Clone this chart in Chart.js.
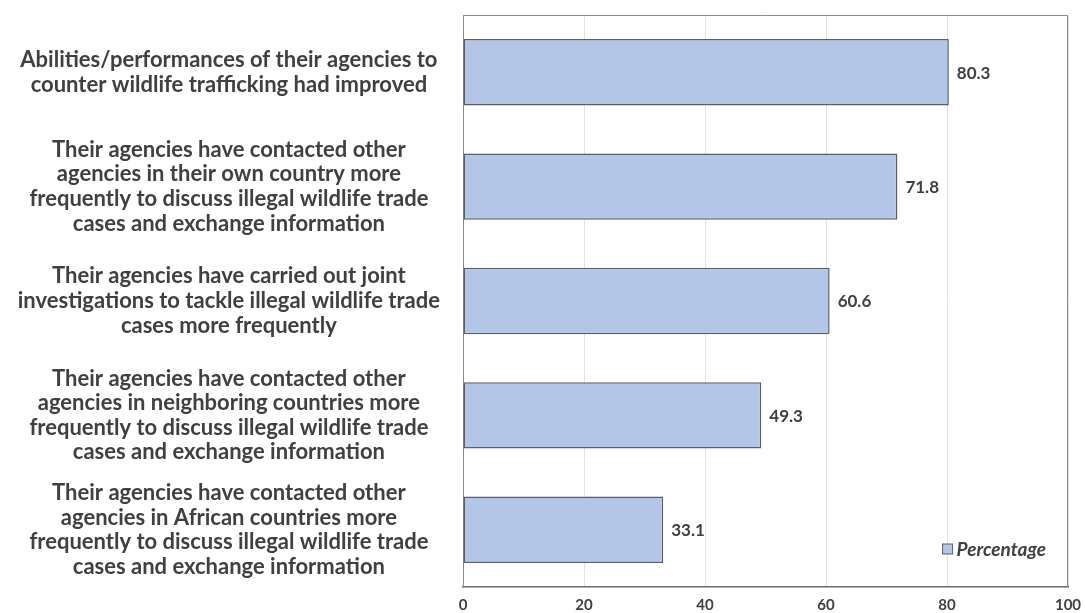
<!DOCTYPE html>
<html>
<head>
<meta charset="utf-8">
<script src="https://cdn.jsdelivr.net/npm/chart.js@4"></script>
<style>
  html, body { margin: 0; padding: 0; background: #ffffff; }
  #wrap { width: 1085px; height: 613px; }
</style>
</head>
<body>
<div id="wrap"><canvas id="grafico" width="1085" height="613"></canvas></div>
<script>
// Categorias (rótulos de várias linhas)
const categorias = [
    ['Abilities/performances of their agencies to', 'counter wildlife trafficking had improved'],
    ['Their agencies have contacted other', 'agencies in their own country more', 'frequently to discuss illegal wildlife trade', 'cases and exchange information'],
    ['Their agencies have carried out joint', 'investigations to tackle illegal wildlife trade', 'cases more frequently'],
    ['Their agencies have contacted other', 'agencies in neighboring countries more', 'frequently to discuss illegal wildlife trade', 'cases and exchange information'],
    ['Their agencies have contacted other', 'agencies in African countries more', 'frequently to discuss illegal wildlife trade', 'cases and exchange information']
];
const percentuais = [80.3, 71.8, 60.6, 49.3, 33.1];
const nomeSerie = 'Percentage';
const ticksX = [0, 20, 40, 60, 80, 100];

const corTexto = '#404040';
const fonte = 'Lato, "DejaVu Sans", sans-serif';

// Valores ao lado das barras
const rotulosValores = {
    id: 'rotulosValores',
    afterDatasetsDraw(chart) {
        const ctx = chart.ctx;
        const meta = chart.getDatasetMeta(0);
        ctx.save();
        ctx.font = 'bold 17px ' + fonte;
        ctx.fillStyle = corTexto;
        ctx.textAlign = 'left';
        ctx.textBaseline = 'middle';
        meta.data.forEach((barra, i) => {
            ctx.fillText(percentuais[i].toFixed(1), barra.x + 8, barra.y + 1);
        });
        ctx.restore();
    }
};

// Legenda dentro da área do gráfico
const legendaInterna = {
    id: 'legendaInterna',
    afterDraw(chart) {
        const ctx = chart.ctx;
        const area = chart.chartArea;
        const ds = chart.data.datasets[0];
        ctx.save();
        ctx.font = 'italic bold 19px ' + fonte;
        const largura = ctx.measureText(ds.label).width;
        const xTexto = area.right - 22 - largura;
        const yTexto = area.bottom - 38;
        ctx.fillStyle = ds.backgroundColor;
        ctx.strokeStyle = ds.borderColor;
        ctx.lineWidth = 1;
        ctx.fillRect(xTexto - 14, yTexto - 5, 10, 10);
        ctx.strokeRect(xTexto - 14, yTexto - 5, 10, 10);
        ctx.fillStyle = corTexto;
        ctx.textAlign = 'left';
        ctx.textBaseline = 'middle';
        ctx.fillText(ds.label, xTexto, yTexto + 1);
        ctx.restore();
    }
};

function inicializarGrafico() {
    const ctx = document.getElementById('grafico').getContext('2d');
    new Chart(ctx, {
        type: 'bar',
        data: {
            labels: categorias,
            datasets: [{
                label: nomeSerie,
                data: percentuais,
                backgroundColor: '#b4c6e7',
                borderColor: '#5a5e68',
                borderWidth: 1.5,
                borderSkipped: false,
                categoryPercentage: 0.58,
                barPercentage: 1
            }]
        },
        options: {
            indexAxis: 'y',
            responsive: false,
            animation: false,
            layout: { padding: { top: 15, right: 17, left: 0, bottom: 0 } },
            plugins: {
                legend: { display: false },
                tooltip: { enabled: false }
            },
            scales: {
                x: {
                    min: 0,
                    max: 100,
                    afterBuildTicks(eixo) {
                        eixo.ticks = ticksX.map(v => ({ value: v }));
                    },
                    afterFit(eixo) {
                        eixo.height = 26;
                        eixo.paddingLeft = 0;
                        eixo.paddingRight = 0;
                    },
                    grid: { color: '#e2e2e2', drawTicks: false, lineWidth: 1 },
                    border: { color: '#6b6b6b', width: 1.5 },
                    ticks: {
                        padding: 9,
                        color: corTexto,
                        font: { family: fonte, size: 15, weight: 'bold' }
                    }
                },
                y: {
                    afterFit(eixo) {
                        eixo.width = 463;
                        eixo.paddingTop = 0;
                        eixo.paddingBottom = 0;
                    },
                    grid: { display: false, drawTicks: false },
                    border: { color: '#8a8a8a', width: 1 },
                    ticks: {
                        crossAlign: 'center',
                        padding: 23,
                        color: corTexto,
                        font: { family: fonte, size: 22, weight: 'bold', lineHeight: 1.12 }
                    }
                }
            }
        },
        plugins: [rotulosValores, legendaInterna, {
            id: 'moldura',
            afterDraw(chart) {
                const a = chart.chartArea;
                const c = chart.ctx;
                c.save();
                c.strokeStyle = '#8a8a8a';
                c.lineWidth = 1;
                c.beginPath();
                c.moveTo(a.left, a.top + 0.5);
                c.lineTo(a.right - 0.5, a.top + 0.5);
                c.lineTo(a.right - 0.5, a.bottom);
                c.stroke();
                c.restore();
            }
        }]
    });
}

document.addEventListener('DOMContentLoaded', () => {
    inicializarGrafico();
});
</script>
</body>
</html>
